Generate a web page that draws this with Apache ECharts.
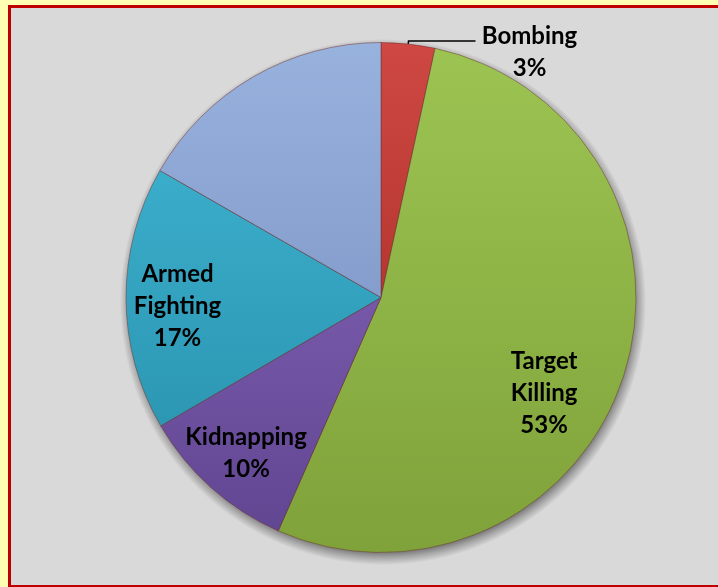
<!DOCTYPE html>
<html><head><meta charset="utf-8">
<script src="https://cdn.jsdelivr.net/npm/echarts@6/dist/echarts.min.js"></script>
<style>
html,body{margin:0;padding:0;width:718px;height:587px;overflow:hidden;background:#ffffb3;}
#frame{position:absolute;left:8px;top:5px;width:730px;height:577px;border:3px solid #c00000;border-right:none;background:#d9d9d9;}
#chart{position:absolute;left:0;top:0;width:718px;height:587px;}
</style></head>
<body><div id="frame"></div><div id="chart"></div>
<script>
const categories = ['Bombing', 'Target Killing', 'Kidnapping', 'Armed Fighting', 'Other'];
const labelNames = ['Bombing', 'Target\nKilling', 'Kidnapping', 'Armed\nFighting', ''];
const values = [3.4, 53.2, 10, 16.7, 16.7];

const colorsTop = ['#cf4843', '#9cc452', '#7658a8', '#3aadca', '#98b2de'];
const colorsBottom = ['#b5372f', '#7fa23a', '#614692', '#2c97b3', '#859dcc'];
const labelShift = [null, [39, 55], [-48, 58], [-73, 8], null];

const font = {fontFamily: 'Lato', fontWeight: 'bold', fontSize: 24, lineHeight: 32, color: '#000'};

const chart = echarts.init(document.getElementById('chart'));

const mainData = categories.map((name, i) => {
  const item = {
    name: name,
    value: values[i],
    itemStyle: {
      color: new echarts.graphic.LinearGradient(0, 0, 0, 1, [
        {offset: 0, color: colorsTop[i]},
        {offset: 1, color: colorsBottom[i]}
      ])
    }
  };
  if (i === 0) {
    item.label = {position: 'outside', padding: [23, 0, 0, 0]};
    item.labelLine = {show: true, length: 3, length2: 67, lineStyle: {color: '#000', width: 1.5}};
  }
  if (labelNames[i] === '') {
    item.label = {show: false};
  }
  return item;
});

const total = values.reduce((a, b) => a + b, 0);

chart.setOption({
  animation: false,
  series: [
    {
      type: 'pie',
      silent: true,
      z: 1,
      center: [383, 302],
      radius: 263,
      label: {show: false},
      labelLine: {show: false},
      itemStyle: {
        color: new echarts.graphic.RadialGradient(0.5, 0.5, 0.5, [
          {offset: 0, color: 'rgba(0,0,0,0.7)'},
          {offset: 0.93, color: 'rgba(0,0,0,0.65)'},
          {offset: 0.97, color: 'rgba(0,0,0,0.25)'},
          {offset: 1, color: 'rgba(0,0,0,0)'}
        ])
      },
      data: [{name: 'shadow', value: total}]
    },
    {
      type: 'pie',
      z: 2,
      center: [381, 297.5],
      radius: 255,
      startAngle: 90,
      clockwise: true,
      avoidLabelOverlap: false,
      itemStyle: {borderColor: 'rgba(110,50,50,0.5)', borderWidth: 1},
      label: Object.assign({
        show: true,
        position: 'inside',
        formatter: function (p) {
          const pct = Math.round(p.percent) + '%';
          if (p.dataIndex === 0) {
            return '{c|' + labelNames[0] + '}\n{c|' + pct + '}';
          }
          return labelNames[p.dataIndex] + '\n' + pct;
        },
        rich: {c: Object.assign({width: 98, align: 'center'}, font)}
      }, font),
      labelLine: {show: false},
      labelLayout: function (p) {
        const s = labelShift[p.dataIndex];
        if (!s) return {};
        return {dx: s[0], dy: s[1]};
      },
      data: mainData
    }
  ]
});
</script>
</body></html>
